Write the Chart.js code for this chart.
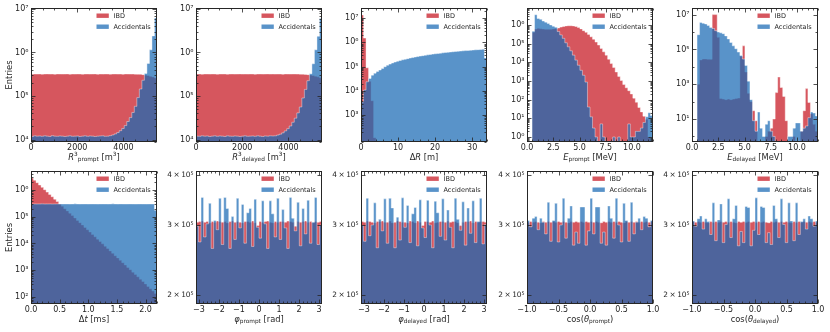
<!DOCTYPE html>
<html>
<head>
<meta charset="utf-8">
<script src="https://cdn.jsdelivr.net/npm/chart.js@4.4.1/dist/chart.umd.min.js"></script>
<style>
  body { margin: 0; background: #fff; width: 830px; height: 332px; position: relative; overflow: hidden; }
  canvas { position: absolute; }
</style>
</head>
<body>
<script>
// ---- data: counts per bin (50 equal bins across each x range), null = empty bin ----
const rPromptIBD = [3.18e5,3.2e5,3.19e5,3.21e5,3.18e5,3.2e5,3.22e5,3.19e5,3.2e5,3.18e5,
  3.21e5,3.2e5,3.19e5,3.2e5,3.22e5,3.18e5,3.2e5,3.19e5,3.21e5,3.2e5,
  3.18e5,3.2e5,3.21e5,3.19e5,3.2e5,3.22e5,3.18e5,3.2e5,3.19e5,3.21e5,
  3.2e5,3.18e5,3.2e5,3.21e5,3.19e5,3.2e5,3.18e5,3.21e5,3.2e5,3.19e5,
  3.2e5,3.18e5,3.17e5,3.15e5,3.1e5,3.02e5,2.95e5,2.85e5,2.75e5,2.6e5];
const rPromptAcc = [1.18e4,1.22e4,1.2e4,1.21e4,1.19e4,1.22e4,1.2e4,1.18e4,1.23e4,1.2e4,
  1.19e4,1.21e4,1.2e4,1.18e4,1.2e4,1.22e4,1.19e4,1.2e4,1.21e4,1.18e4,
  1.2e4,1.22e4,1.19e4,1.21e4,1.2e4,1.18e4,1.2e4,1.21e4,1.22e4,1.19e4,
  1.2e4,1.23e4,1.28e4,1.35e4,1.45e4,1.6e4,1.8e4,2.1e4,2.6e4,3.2e4,
  4.2e4,5.8e4,9.2e4,1.45e5,2.3e5,3.3e5,5.6e5,1.15e6,2.4e6,6.2e6];

const rDelayedIBD = [3.19e5,3.2e5,3.18e5,3.21e5,3.2e5,3.19e5,3.21e5,3.2e5,3.18e5,3.2e5,
  3.2e5,3.21e5,3.18e5,3.2e5,3.21e5,3.19e5,3.2e5,3.22e5,3.19e5,3.2e5,
  3.19e5,3.21e5,3.2e5,3.18e5,3.2e5,3.21e5,3.19e5,3.2e5,3.22e5,3.19e5,
  3.21e5,3.19e5,3.2e5,3.2e5,3.18e5,3.21e5,3.2e5,3.19e5,3.21e5,3.2e5,
  3.19e5,3.18e5,3.18e5,3.14e5,3.1e5,3.03e5,2.96e5,2.86e5,2.76e5,2.62e5];
const rDelayedAcc = [1.2e4,1.19e4,1.22e4,1.2e4,1.21e4,1.18e4,1.2e4,1.22e4,1.19e4,1.21e4,
  1.2e4,1.18e4,1.22e4,1.2e4,1.19e4,1.21e4,1.2e4,1.18e4,1.2e4,1.22e4,
  1.19e4,1.2e4,1.21e4,1.19e4,1.22e4,1.2e4,1.18e4,1.21e4,1.2e4,1.22e4,
  1.21e4,1.22e4,1.27e4,1.33e4,1.43e4,1.58e4,1.78e4,2.05e4,2.5e4,3.1e4,
  4.1e4,5.6e4,9e4,1.42e5,2.25e5,3.25e5,5.5e5,1.15e6,2.35e6,6.0e6];

const dRIBD = [1.35e7,1.5e6,9e4,2.5e4,4e3,1.2e2,null,null,null,null,
  null,null,null,null,null,null,null,null,null,null,
  null,null,null,null,null,null,null,null,null,null,
  null,null,null,null,null,null,null,null,null,null,
  null,null,null,null,null,null,null,null,null,null];
const dRAcc = [3.5e3,1.1e4,2.4e4,3.3e4,4.5e4,5.4e4,6.4e4,7.3e4,8.5e4,1.0e5,
  1.15e5,1.28e5,1.42e5,1.55e5,1.68e5,1.8e5,1.92e5,2.03e5,2.15e5,2.27e5,
  2.38e5,2.5e5,2.62e5,2.73e5,2.85e5,2.96e5,3.07e5,3.18e5,3.3e5,3.4e5,
  3.5e5,3.62e5,3.72e5,3.83e5,3.93e5,4.03e5,4.13e5,4.22e5,4.32e5,4.41e5,
  4.5e5,4.6e5,4.68e5,4.77e5,4.86e5,4.95e5,5.03e5,5.1e5,5.2e5,2.3e5];

const ePromptIBD = [null,null,4.0e5,6.0e5,6.5e5,6.2e5,6.0e5,5.8e5,5.8e5,5.9e5,
  6.1e5,6.4e5,6.8e5,7.6e5,8.3e5,8.8e5,9.0e5,9.0e5,8.8e5,8.2e5,
  7.2e5,6.1e5,4.9e5,4.0e5,3.1e5,2.3e5,1.7e5,1.2e5,8.3e4,5.5e4,
  3.6e4,2.4e4,1.45e4,8.5e3,5.2e3,3.0e3,1.75e3,1.05e3,6.4e2,4.3e2,
  3.0e2,2.0e2,1.2e2,72,38,22,13,9,1,null];
const ePromptAcc = [null,null,4.5e5,3.5e6,2.2e6,2.0e6,1.6e6,1.4e6,1.2e6,1.0e6,
  8.5e5,7.5e5,4.4e5,2.9e5,1.9e5,1.1e5,6.7e4,4.1e4,2.4e4,1.3e4,
  6.9e3,3.7e3,2.0e3,8.7e2,40,12,3,1,null,5,
  1,null,null,null,1,null,1,null,null,null,
  5,1,1,2,2,3,6,12,20,14];

const eDelayedIBD = [null,null,1e3,2.5e4,2.8e4,2.8e4,2.7e4,2.7e4,1.0e7,1.0e7,
  5e5,1.5e2,1.4e2,1.3e2,1.4e2,1.3e2,1.4e2,1.5e2,1.6e2,4e4,
  1.6e5,5e3,3e2,1e2,30,8,null,null,null,1,
  2,3,10,3.3e2,2.6e3,6.5e2,2e2,8,null,null,
  1,null,null,2,30,5.6e2,90,20,5,2];
const eDelayedAcc = [null,null,7e5,3.5e6,3.2e6,2.9e6,2.4e6,1.8e6,1.6e6,1.2e6,
  1.0e6,9e5,8e5,6e5,4e5,2.5e5,1.6e5,1.1e5,7e4,4.5e4,
  2.8e4,1.2e4,1.5e3,1.3e2,8,2,25,3,1,5,
  8,2,1,null,null,null,null,null,1,1,
  3,6,6,2,3,4,12,25,22,15];

const dtIBD = [2.8e6,2.3e6,1.87e6,1.53e6,1.25e6,1.02e6,8.3e5,6.8e5,5.55e5,4.5e5,
  3.7e5,3.0e5,2.47e5,2.0e5,1.65e5,1.35e5,1.1e5,9.0e4,7.3e4,6.0e4,
  4.9e4,4.0e4,3.27e4,2.67e4,2.18e4,1.78e4,1.45e4,1.19e4,9.7e3,7.9e3,
  6.5e3,5.3e3,4.3e3,3.5e3,2.9e3,2.35e3,1.92e3,1.57e3,1.28e3,1.05e3,
  8.5e2,7.0e2,5.7e2,4.6e2,3.8e2,3.1e2,2.5e2,2.05e2,1.68e2,1.37e2];
const dtAcc = [3.0e5,3.01e5,2.99e5,3.0e5,3.02e5,2.99e5,3.0e5,3.01e5,2.98e5,3.0e5,
  3.01e5,3.0e5,2.99e5,3.01e5,3.0e5,2.98e5,3.0e5,3.02e5,3.0e5,2.99e5,
  3.0e5,3.01e5,2.99e5,3.0e5,3.01e5,3.0e5,2.98e5,3.0e5,3.01e5,3.0e5,
  2.99e5,3.0e5,3.02e5,3.0e5,2.99e5,3.01e5,3.0e5,2.99e5,3.0e5,3.01e5,
  3.0e5,2.98e5,3.0e5,3.01e5,3.0e5,2.99e5,3.0e5,3.01e5,3.0e5,1.75e5];

const phiPromptIBD = [3.05e5,3.06e5,3.07e5,3.05e5,3.06e5,3.04e5,3.06e5,3.05e5,3.07e5,3.06e5,
  3.05e5,3.06e5,3.04e5,3.06e5,3.07e5,3.05e5,3.06e5,3.05e5,3.04e5,3.06e5,
  3.06e5,3.05e5,3.07e5,3.04e5,2.99e5,3.06e5,3.05e5,3.06e5,3.07e5,3.05e5,
  3.04e5,3.06e5,3.05e5,3.06e5,3.06e5,3.05e5,3.07e5,3.06e5,3.05e5,2.98e5,
  3.06e5,3.05e5,3.06e5,3.07e5,3.05e5,3.06e5,3.04e5,3.06e5,3.05e5,3.06e5];
const phiPromptAcc = [2.98e5,2.72e5,3.52e5,2.8e5,3.02e5,3.4e5,2.62e5,3.08e5,2.92e5,3.5e5,
  2.68e5,3.52e5,3.3e5,2.62e5,3.15e5,2.76e5,3.5e5,2.95e5,3.38e5,2.7e5,
  3.22e5,3.3e5,2.65e5,3.48e5,2.96e5,2.78e5,3.45e5,3.02e5,2.62e5,3.45e5,
  3.2e5,2.8e5,3.5e5,2.76e5,3.28e5,2.95e5,2.62e5,3.52e5,3.12e5,2.9e5,
  3.42e5,2.66e5,3.3e5,2.85e5,3.46e5,2.7e5,3.05e5,3.52e5,2.68e5,3.0e5];

const phiDelayedIBD = [3.06e5,3.05e5,3.07e5,3.06e5,3.05e5,3.04e5,3.06e5,3.06e5,3.07e5,3.05e5,
  3.05e5,3.07e5,3.04e5,3.05e5,3.07e5,3.06e5,3.05e5,3.05e5,3.04e5,3.07e5,
  3.06e5,3.04e5,3.07e5,3.05e5,2.99e5,3.06e5,3.06e5,3.05e5,3.07e5,3.04e5,
  3.05e5,3.06e5,3.06e5,3.05e5,3.07e5,3.05e5,3.06e5,3.06e5,3.04e5,2.99e5,
  3.05e5,3.06e5,3.06e5,3.07e5,3.04e5,3.06e5,3.05e5,3.06e5,3.06e5,3.05e5];
const phiDelayedAcc = [2.99e5,2.73e5,3.5e5,2.82e5,3.0e5,3.41e5,2.63e5,3.1e5,2.9e5,3.49e5,
  2.7e5,3.5e5,3.31e5,2.63e5,3.14e5,2.75e5,3.51e5,2.96e5,3.36e5,2.71e5,
  3.2e5,3.32e5,2.66e5,3.47e5,2.95e5,2.79e5,3.46e5,3.0e5,2.63e5,3.44e5,
  3.22e5,2.81e5,3.49e5,2.75e5,3.27e5,2.96e5,2.63e5,3.5e5,3.1e5,2.91e5,
  3.43e5,2.67e5,3.31e5,2.86e5,3.45e5,2.71e5,3.06e5,3.5e5,2.69e5,3.01e5];

const cosPromptIBD = [3.05e5,3.06e5,3.05e5,3.06e5,3.05e5,3.04e5,3.06e5,3.05e5,3.06e5,3.05e5,
  3.06e5,3.05e5,3.06e5,3.05e5,3.06e5,3.05e5,3.04e5,3.06e5,3.05e5,3.06e5,
  3.05e5,3.06e5,3.05e5,3.06e5,3.05e5,3.06e5,3.05e5,3.06e5,3.05e5,3.04e5,
  3.06e5,3.05e5,3.06e5,3.05e5,3.06e5,3.05e5,3.06e5,3.05e5,3.04e5,3.06e5,
  3.05e5,3.06e5,3.05e5,3.06e5,3.05e5,3.06e5,3.05e5,3.06e5,3.05e5,3.06e5];
const cosPromptAcc = [3.08e5,2.97e5,3.12e5,3.15e5,2.92e5,3.12e5,3.05e5,2.85e5,3.42e5,2.73e5,
  3.08e5,3.4e5,2.72e5,3.0e5,3.5e5,2.78e5,3.12e5,3.35e5,2.67e5,2.88e5,
  2.7e5,3.33e5,3.33e5,2.67e5,2.9e5,3.5e5,2.85e5,3.33e5,3.33e5,2.7e5,
  2.88e5,2.67e5,3.35e5,3.12e5,2.78e5,3.5e5,3.0e5,2.72e5,3.4e5,3.08e5,
  2.73e5,3.42e5,2.85e5,3.05e5,3.12e5,2.92e5,3.15e5,3.12e5,2.97e5,3.08e5];

const cosDelayedIBD = [3.06e5,3.05e5,3.06e5,3.05e5,3.06e5,3.05e5,3.04e5,3.06e5,3.05e5,3.06e5,
  3.05e5,3.06e5,3.05e5,3.06e5,3.05e5,3.06e5,3.05e5,3.04e5,3.06e5,3.05e5,
  3.06e5,3.05e5,3.06e5,3.05e5,3.06e5,3.05e5,3.06e5,3.05e5,3.06e5,3.05e5,
  3.04e5,3.06e5,3.05e5,3.06e5,3.05e5,3.06e5,3.05e5,3.06e5,3.05e5,3.04e5,
  3.06e5,3.05e5,3.06e5,3.05e5,3.06e5,3.05e5,3.06e5,3.05e5,3.06e5,3.05e5];
const cosDelayedAcc = [3.07e5,2.98e5,3.11e5,3.16e5,2.93e5,3.11e5,3.06e5,2.84e5,3.41e5,2.74e5,
  3.09e5,3.39e5,2.71e5,3.01e5,3.49e5,2.79e5,3.11e5,3.36e5,2.66e5,2.89e5,
  2.71e5,3.34e5,3.32e5,2.66e5,2.91e5,3.51e5,2.84e5,3.34e5,3.32e5,2.71e5,
  2.87e5,2.68e5,3.36e5,3.11e5,2.79e5,3.49e5,3.01e5,2.71e5,3.41e5,3.07e5,
  2.74e5,3.41e5,2.84e5,3.06e5,3.11e5,2.93e5,3.16e5,3.11e5,2.98e5,3.07e5];

// tick values
const rTicks = [0, 2000, 4000];
const dRTicks = [0, 10, 20, 30];
const eTicks = [0, 2.5, 5, 7.5, 10];
const dtTicks = [0, 0.5, 1, 1.5, 2];
const phiTicks = [-3, -2, -1, 0, 1, 2, 3];
const cosTicks = [-1, -0.5, 0, 0.5, 1];
const rYTicks = [1e4, 1e5, 1e6, 1e7];
const dRYTicks = [1e3, 1e4, 1e5, 1e6, 1e7];
const ePromptYTicks = [1, 10, 1e2, 1e3, 1e4, 1e5, 1e6];
const eDelayedYTicks = [10, 1e3, 1e5, 1e7];
const dtYTicks = [1e2, 1e3, 1e4, 1e5, 1e6];
const angYTicks = [2e5, 3e5, 4e5];

const RED = 'rgba(200,30,40,0.75)';
const BLUE = 'rgba(25,105,180,0.72)';
const EDGE = 'rgba(255,255,255,0.5)';
const FONT = '"DejaVu Sans", "Liberation Sans", sans-serif';

const panels = [
  { ibd: rPromptIBD, acc: rPromptAcc, x: [0, 5450], y: [8.8e3, 1.05e7], xt: rTicks, xm: 500, fmt: 'int',
    yt: rYTicks, ym: 'log', entries: true, title: [['R', 'i'], ['3', 'sup'], ['prompt', 'sub'], [' [m', ''], ['3', 'sup'], [']', '']] },
  { ibd: rDelayedIBD, acc: rDelayedAcc, x: [0, 5450], y: [8.8e3, 1.05e7], xt: rTicks, xm: 500, fmt: 'int',
    yt: rYTicks, ym: 'log', title: [['R', 'i'], ['3', 'sup'], ['delayed', 'sub'], [' [m', ''], ['3', 'sup'], [']', '']] },
  { ibd: dRIBD, acc: dRAcc, x: [0, 34], y: [80, 2.6e7], xt: dRTicks, xm: 2, fmt: 'int',
    yt: dRYTicks, ym: 'log', title: [['Δ', ''], ['R', 'i'], [' [m]', '']] },
  { ibd: ePromptIBD, acc: ePromptAcc, x: [0, 12], y: [0.54, 8e6], xt: eTicks, xm: 0.5, fmt: 'f1',
    yt: ePromptYTicks, ym: 'log', title: [['E', 'i'], ['prompt', 'sub'], [' [MeV]', '']] },
  { ibd: eDelayedIBD, acc: eDelayedAcc, x: [0, 12], y: [0.48, 2.4e7], xt: eTicks, xm: 0.5, fmt: 'f1',
    yt: eDelayedYTicks, ym: 'decade', title: [['E', 'i'], ['delayed', 'sub'], [' [MeV]', '']] },
  { ibd: dtIBD, acc: dtAcc, x: [0, 2.2], y: [55, 5.1e6], xt: dtTicks, xm: 0.1, fmt: 'f1',
    yt: dtYTicks, ym: 'log', entries: true, title: [['Δ', ''], ['t', 'i'], [' [ms]', '']] },
  { ibd: phiPromptIBD, acc: phiPromptAcc, x: [-Math.PI, Math.PI], y: [1.9e5, 4.1e5], xt: phiTicks, xm: 0.2, fmt: 'int',
    yt: angYTicks, ym: 'none', title: [['φ', 'i'], ['prompt', 'sub'], [' [rad]', '']] },
  { ibd: phiDelayedIBD, acc: phiDelayedAcc, x: [-Math.PI, Math.PI], y: [1.9e5, 4.1e5], xt: phiTicks, xm: 0.2, fmt: 'int',
    yt: angYTicks, ym: 'none', title: [['φ', 'i'], ['delayed', 'sub'], [' [rad]', '']] },
  { ibd: cosPromptIBD, acc: cosPromptAcc, x: [-1, 1], y: [1.9e5, 4.1e5], xt: cosTicks, xm: 0.1, fmt: 'f1',
    yt: angYTicks, ym: 'none', title: [['cos(', ''], ['θ', 'i'], ['prompt', 'sub'], [')', '']] },
  { ibd: cosDelayedIBD, acc: cosDelayedAcc, x: [-1, 1], y: [1.9e5, 4.1e5], xt: cosTicks, xm: 0.1, fmt: 'f1',
    yt: angYTicks, ym: 'none', title: [['cos(', ''], ['θ', 'i'], ['delayed', 'sub'], [')', '']] }
];

// layout (px)
const YW = 31, XH = 26, PT = 8, PR = 10, PW = 126;
const colLeft = [31, 196, 361, 527, 692];
const rowTop = [8, 171], rowH = [134, 133];

const SUP = { '0': '⁰', '1': '¹', '2': '²', '3': '³', '4': '⁴', '5': '⁵', '6': '⁶', '7': '⁷', '8': '⁸', '9': '⁹', '-': '⁻' };
const sup = s => String(s).split('').map(c => SUP[c] || c).join('');
const minus = s => s.replace('-', '\u2212');

function fmtX(v, fmt) {
  const s = fmt === 'f1' ? v.toFixed(1) : String(Math.round(v));
  return minus(s);
}
function fmtY(v) {
  const e = Math.floor(Math.log10(v) + 1e-9);
  const m = Math.round(v / Math.pow(10, e));
  return m === 1 ? '10' + sup(e) : m + '\u2009×\u200910' + sup(e);
}

// histogram as a filled step line: points at bin centres plus both outer edges
function steps(vals, lo, hi, floor) {
  const w = (hi - lo) / vals.length;
  const pts = vals.map((v, i) => ({ x: lo + (i + 0.5) * w, y: v == null ? floor : v }));
  pts.unshift({ x: lo, y: pts[0].y });
  pts.push({ x: hi, y: pts[pts.length - 1].y });
  return pts;
}

function minorX(p) {
  const out = [];
  const s = p.xm;
  for (let v = Math.ceil(p.x[0] / s - 1e-9) * s; v <= p.x[1] + 1e-9; v += s) {
    if (!p.xt.some(t => Math.abs(t - v) < s / 10)) out.push(v);
  }
  return out;
}
function minorY(p) {
  const out = [];
  if (p.ym === 'none') return out;
  for (let k = Math.floor(Math.log10(p.y[0])); k <= Math.ceil(Math.log10(p.y[1])); k++) {
    const d = Math.pow(10, k);
    if (p.ym === 'decade') { if (!p.yt.includes(d)) out.push(d); continue; }
    for (let m = 2; m <= 9; m++) out.push(m * d);
  }
  return out.filter(v => v >= p.y[0] && v <= p.y[1]);
}

function drawRich(ctx, segs, cx, base, size) {
  const parts = segs.map(([t, s]) => {
    const sz = (s === 'sub' || s === 'sup') ? size * 0.7 : size;
    const font = (s === 'i' ? 'italic ' : '') + sz + 'px ' + FONT;
    ctx.font = font;
    return { t, font, w: ctx.measureText(t).width, dy: s === 'sub' ? size * 0.22 : s === 'sup' ? -size * 0.45 : 0 };
  });
  let x = cx - parts.reduce((a, q) => a + q.w, 0) / 2;
  ctx.textAlign = 'left';
  ctx.textBaseline = 'alphabetic';
  parts.forEach(q => { ctx.font = q.font; ctx.fillText(q.t, x, base + q.dy); x += q.w; });
}

function deco(p) {
  return {
    id: 'deco',
    afterDraw(chart) {
      const { ctx, chartArea: a, scales: { x, y } } = chart;
      const L = Math.round(a.left) + 0.5, R = Math.round(a.right) - 0.5;
      const T = Math.round(a.top) + 0.5, B = Math.round(a.bottom) - 0.5;
      ctx.save();
      ctx.strokeStyle = '#262626';
      ctx.lineWidth = 0.8;
      ctx.beginPath();
      const tx = (v, len) => { const X = Math.round(x.getPixelForValue(v)) + 0.5; ctx.moveTo(X, B); ctx.lineTo(X, B - len); ctx.moveTo(X, T); ctx.lineTo(X, T + len); };
      const ty = (v, len) => { const Y = Math.round(y.getPixelForValue(v)) + 0.5; ctx.moveTo(L, Y); ctx.lineTo(L + len, Y); ctx.moveTo(R, Y); ctx.lineTo(R - len, Y); };
      p.xt.forEach(v => tx(v, 4));
      minorX(p).forEach(v => tx(v, 2));
      p.yt.forEach(v => ty(v, 4));
      minorY(p).forEach(v => ty(v, 2));
      ctx.stroke();
      ctx.lineWidth = 1;
      ctx.strokeRect(L, T, R - L, B - T);

      // legend, top right inside the axes
      ctx.font = '6.5px ' + FONT;
      ctx.textBaseline = 'middle';
      ctx.textAlign = 'left';
      chart.data.datasets.forEach((ds, i) => {
        const cy = a.top + 7.7 + 11 * i;
        ctx.fillStyle = ds.backgroundColor;
        ctx.fillRect(a.right - 60.5, cy - 2.2, 12.3, 4.4);
        ctx.fillStyle = '#262626';
        ctx.fillText(ds.label, a.right - 43.5, cy + 0.3);
      });

      // axis titles
      ctx.fillStyle = '#262626';
      drawRich(ctx, p.title, (a.left + a.right) / 2, a.bottom + 17.5, 8.3);
      if (p.entries) {
        ctx.translate(a.left - 21.5, (a.top + a.bottom) / 2);
        ctx.rotate(-Math.PI / 2);
        ctx.font = '8.3px ' + FONT;
        ctx.textAlign = 'center';
        ctx.textBaseline = 'middle';
        ctx.fillText('Entries', 0, 0);
      }
      ctx.restore();
    }
  };
}

panels.forEach((p, k) => {
  const r = Math.floor(k / 5), c = k % 5;
  const cv = document.createElement('canvas');
  cv.width = YW + PW + PR;
  cv.height = PT + rowH[r] + XH;
  cv.style.left = (colLeft[c] - YW) + 'px';
  cv.style.top = (rowTop[r] - PT) + 'px';
  document.body.appendChild(cv);

  const floor = p.y[0] / 3;
  const tickFont = { family: FONT, size: 8 };
  const yFont = { family: FONT, size: p.ym === 'none' ? 7.4 : 8 };
  new Chart(cv, {
    type: 'line',
    data: {
      datasets: [
        { label: 'IBD', data: steps(p.ibd, p.x[0], p.x[1], floor), backgroundColor: RED, borderColor: EDGE,
          borderWidth: 0.8, fill: 'start', stepped: 'middle', pointRadius: 0, order: 1 },
        { label: 'Accidentals', data: steps(p.acc, p.x[0], p.x[1], floor), backgroundColor: BLUE, borderColor: EDGE,
          borderWidth: 0.8, fill: 'start', stepped: 'middle', pointRadius: 0, order: 0 }
      ]
    },
    options: {
      responsive: false,
      animation: false,
      events: [],
      layout: { padding: { top: PT, right: PR, left: 0, bottom: 0 } },
      plugins: { legend: { display: false }, tooltip: { enabled: false } },
      scales: {
        x: {
          type: 'linear', min: p.x[0], max: p.x[1], offset: false,
          grid: { display: false, drawTicks: false }, border: { display: false },
          ticks: { font: tickFont, color: '#262626', padding: 1, autoSkip: false, maxRotation: 0,
            callback: v => fmtX(v, p.fmt) },
          afterBuildTicks: s => { s.ticks = p.xt.map(v => ({ value: v })); },
          afterFit: s => { s.height = XH; }
        },
        y: {
          type: 'logarithmic', min: p.y[0], max: p.y[1],
          grid: { display: false, drawTicks: false }, border: { display: false },
          ticks: { font: yFont, color: '#262626', padding: 2.5, autoSkip: false, callback: v => fmtY(v) },
          afterBuildTicks: s => { s.ticks = p.yt.map(v => ({ value: v })); },
          afterFit: s => { s.width = YW; }
        }
      }
    },
    plugins: [deco(p)]
  });
});
</script>
</body>
</html>
